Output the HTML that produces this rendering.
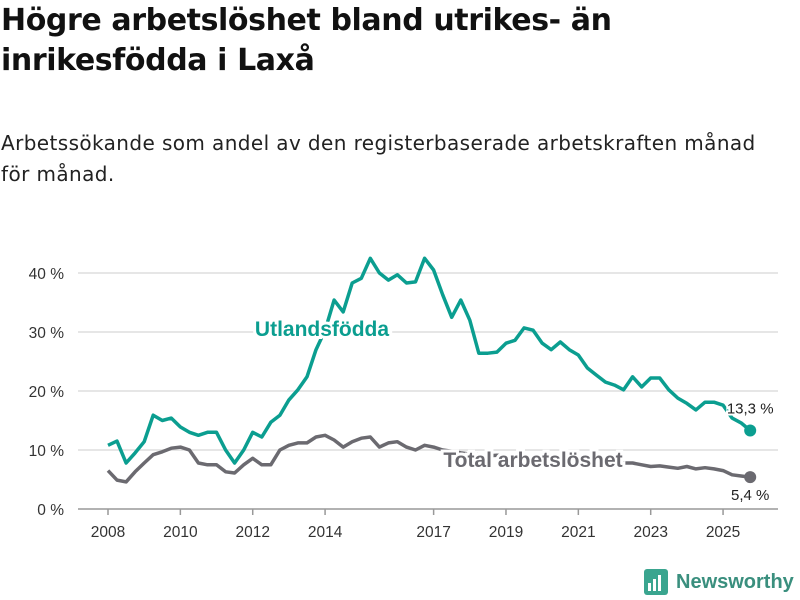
<!DOCTYPE html>
<html><head><meta charset="utf-8"><style>
body{margin:0;width:800px;height:600px;background:#fff;font-family:"DejaVu Sans","Liberation Sans",sans-serif;overflow:hidden}
h1{position:absolute;left:1px;top:1px;margin:0;font-size:30px;line-height:40px;font-weight:bold;color:#111;letter-spacing:-0.4px;white-space:nowrap}
.sub{position:absolute;left:1px;top:128px;font-size:20px;letter-spacing:0.4px;line-height:31px;color:#222;white-space:nowrap}
svg text{font-family:"Liberation Sans",sans-serif}
</style></head><body>
<h1>Högre arbetslöshet bland utrikes- än<br>inrikesfödda i Laxå</h1>
<div class="sub">Arbetssökande som andel av den registerbaserade arbetskraften månad<br>för månad.</div>
<svg id="c" width="800" height="600" style="position:absolute;left:0;top:0"></svg>
<script>
const startYear = 2008;
const step = 0.25;
const utrikes = [10.8,11.5,7.8,9.5,11.4,15.9,15,15.4,13.9,13,12.5,13,13,10,7.8,10,13,12.2,14.7,15.9,18.5,20.2,22.4,27,30.3,35.4,33.4,38.3,39.1,42.5,40,38.8,39.7,38.3,38.5,42.5,40.5,36.3,32.5,35.4,32,26.4,26.4,26.6,28.1,28.6,30.7,30.3,28.1,27,28.3,27,26.1,23.9,22.7,21.5,21,20.2,22.4,20.7,22.2,22.2,20.2,18.8,17.9,16.8,18.1,18.1,17.6,15.4,14.6,13.3];
const total = [6.5,4.9,4.6,6.3,7.8,9.2,9.7,10.3,10.5,10,7.8,7.5,7.5,6.3,6.1,7.5,8.6,7.5,7.5,10,10.8,11.2,11.2,12.2,12.5,11.7,10.5,11.4,12,12.2,10.5,11.2,11.4,10.5,10,10.8,10.5,10,9.8,9.5,9.3,9.2,9,9.1,9,8.9,8.8,8.7,8.6,8.5,8.4,8.3,8.2,8.1,8,7.9,7.8,7.8,7.8,7.5,7.2,7.3,7.1,6.9,7.2,6.8,7.0,6.8,6.5,5.8,5.6,5.4];
const yTicks = [0,10,20,30,40];
const yTickLabels = ["0 %","10 %","20 %","30 %","40 %"];
const xTicks = [2008,2010,2012,2014,2017,2019,2021,2023,2025];
const NS="http://www.w3.org/2000/svg", svg=document.getElementById('c');
const X = yr => 108 + (yr-2008)*36.18;
const Y = v => 509 - v*5.9;
function mk(t,a,txt){const e=document.createElementNS(NS,t);for(const k in a)e.setAttribute(k,a[k]);if(txt!==undefined)e.textContent=txt;svg.appendChild(e);return e;}
yTicks.forEach((v,i)=>{
  const g=mk('line',{x1:78,x2:778,y1:Y(v),y2:Y(v),stroke:v===0?'#999':'#ddd','stroke-width':1.5});
  
  
  const t=mk('text',{x:64,y:Y(v)+6,'text-anchor':'end','font-size':15.5,fill:'#333'},yTickLabels[i]);
  
  
});
xTicks.forEach(yr=>{
  const l=mk('line',{x1:X(yr),x2:X(yr),y1:509,y2:515,stroke:'#999','stroke-width':1.5});
  
  
  const t=mk('text',{x:X(yr),y:537,'text-anchor':'middle','font-size':15.5,fill:'#333'},String(yr));
  
  
});
function pts(arr){return arr.map((v,i)=>X(startYear+i*step).toFixed(1)+','+Y(v).toFixed(1)).join(' ');}
const pt=mk('polyline',{points:pts(total),fill:'none',stroke:'#6b6a70','stroke-width':3.5,'stroke-linejoin':'round'});


const pu=mk('polyline',{points:pts(utrikes),fill:'none',stroke:'#0b9e90','stroke-width':3.5,'stroke-linejoin':'round'});


const lastI=utrikes.length-1, lx=X(startYear+lastI*step);
const d1=mk('circle',{cx:lx,cy:Y(utrikes[lastI]),r:6,fill:'#0b9e90'});


const d2=mk('circle',{cx:lx,cy:Y(total[total.length-1]),r:6,fill:'#6b6a70'});


const v1=mk('text',{x:lx,y:Y(utrikes[lastI])-17,'text-anchor':'middle','font-size':15,fill:'#222',stroke:'#fff','stroke-width':4,'paint-order':'stroke'},'13,3 %');


const v2=mk('text',{x:lx,y:Y(total[total.length-1])+23,'text-anchor':'middle','font-size':15,fill:'#222',stroke:'#fff','stroke-width':4,'paint-order':'stroke'},'5,4 %');


const l1=mk('text',{x:322,y:336,'text-anchor':'middle','font-size':21,'font-weight':'bold',fill:'#0b9e90',stroke:'#fff','stroke-width':6,'paint-order':'stroke'},'Utlandsfödda');


const l2=mk('text',{x:533,y:467,'text-anchor':'middle','font-size':21,'font-weight':'bold',fill:'#6b6a70',stroke:'#fff','stroke-width':6,'paint-order':'stroke'},'Total arbetslöshet');


</script>
<div style="position:absolute;left:644px;top:569px;display:flex;align-items:center">
<svg width="24" height="26"><rect x="0" y="0" width="24" height="26" rx="3" fill="#3aa58f"/><rect x="4" y="14" width="3" height="8" fill="#fff"/><rect x="9" y="10" width="3" height="12" fill="#fff"/><rect x="14" y="6" width="3" height="16" fill="#fff"/></svg>
<span style="margin-left:8px;font-family:'Liberation Sans',sans-serif;font-size:20px;font-weight:bold;color:#3a8f7e">Newsworthy</span></div>
</body></html>
